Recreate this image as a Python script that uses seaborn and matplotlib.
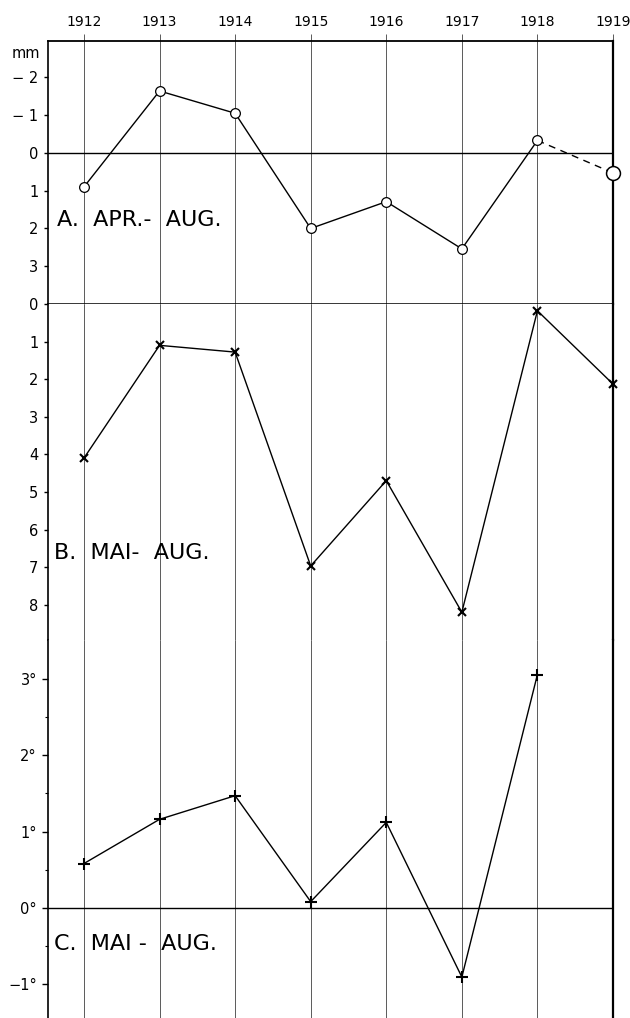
import matplotlib
matplotlib.use("Agg")
import matplotlib.pyplot as plt
import seaborn as sns
import numpy as np

sns.set_style("white")
plt.rcParams['font.family'] = ['DejaVu Sans']
plt.rcParams['text.color'] = 'black'
plt.rcParams['xtick.color'] = 'black'
plt.rcParams['ytick.color'] = 'black'

years = [1912, 1913, 1914, 1915, 1916, 1917, 1918, 1919]
a_vals = [0.9, -1.64, -1.05, 2.0, 1.29, 2.54, -0.33, 0.53]   # mm, Apr-Aug
b_vals = [4.1, 1.1, 1.28, 6.97, 4.7, 8.2, 0.18, 2.13]          # mm, Mai-Aug
c_years = [1912, 1913, 1914, 1915, 1916, 1917, 1918]
c_vals = [0.58, 1.16, 1.47, 0.08, 1.12, -0.91, 3.06]           # deg, Mai-Aug

a_ticks = [-2, -1, 0, 1, 2, 3]
a_labels = ["\u2212 2", "\u2212 1", "0", "1", "2", "3"]
b_ticks = [0, 1, 2, 3, 4, 5, 6, 7, 8]
c_ticks = [-1, 0, 1, 2, 3]
c_labels = ["\u22121\u00b0", "0\u00b0", "1\u00b0", "2\u00b0", "3\u00b0"]

W, H = 630, 1018
fig = plt.figure(figsize=(W / 100, H / 100), dpi=100)

def frac(top_px, bot_px):
    return [48 / W, 1 - bot_px / H, (613 - 48) / W, (bot_px - top_px) / H]

axA = fig.add_axes(frac(41, 304))
axB = fig.add_axes(frac(304, 640))
axC = fig.add_axes(frac(640, 1018))

xlim = (1911.524, 1919.0)
grid_kw = dict(color="#5a5a5a", lw=0.7, zorder=0)
lw = 1.0
for ax in (axA, axB, axC):
    ax.set_xlim(*xlim)
    ax.set_xticks(years)
    for y in years[:-1]:
        ax.axvline(y, **grid_kw)
    ax.spines["left"].set_visible(True)
    ax.spines["left"].set_color("black")
    ax.spines["left"].set_linewidth(1.2)
    ax.spines["right"].set_visible(True)
    ax.spines["right"].set_color("black")
    ax.spines["right"].set_linewidth(1.6)
    ax.tick_params(axis="y", which="major", direction="out", length=3, width=1,
                   labelsize=10.5, pad=4, left=True, right=False, color="black",
                   labelcolor="black")
    ax.set_xlabel("")
    ax.set_ylabel("")

# Panel A
axA.set_ylim(4.0, -2.963)
axA.set_yticks(a_ticks)
axA.set_yticklabels(a_labels)
axA.axhline(0, color="black", lw=1.0, zorder=1)
axA.spines["top"].set_visible(True)
axA.spines["top"].set_color("black")
axA.spines["top"].set_linewidth(1.3)
axA.spines["bottom"].set_visible(True)
axA.spines["bottom"].set_color("black")
axA.spines["bottom"].set_linewidth(1.1)
axA.xaxis.tick_top()
axA.tick_params(axis="x", which="major", top=True, bottom=False, length=5, width=0.7,
                color="#5a5a5a", labelsize=10, pad=4, labeltop=True, labelbottom=False,
                labelcolor="black")
axA.set_xticklabels([str(y) for y in years])
sns.lineplot(x=years[:-1], y=a_vals[:-1], ax=axA, color="black", lw=lw, marker="o",
             markersize=7, markerfacecolor="white", markeredgecolor="black",
             markeredgewidth=0.9, zorder=3)
sns.lineplot(x=years[-2:], y=a_vals[-2:], ax=axA, color="black", lw=lw,
             linestyle=(0, (5, 4)), zorder=2)
axA.plot([years[-1]], [a_vals[-1]], marker="o", markersize=10, markerfacecolor="white",
         markeredgecolor="black", markeredgewidth=1.1, clip_on=False, zorder=4)
axA.text(-0.064, 0.952, "mm", transform=axA.transAxes, fontsize=10.5, ha="left", va="center")
axA.text(0.016, 0.318, "A.  APR.-  AUG.", transform=axA.transAxes, fontsize=16,
         ha="left", va="center")

# Panel B
axB.set_ylim(8.94, 0)
axB.set_yticks(b_ticks)
axB.spines["top"].set_visible(False)
axB.spines["bottom"].set_visible(False)
axB.tick_params(axis="x", which="both", top=False, bottom=False, labeltop=False, labelbottom=False)
sns.lineplot(x=years, y=b_vals, ax=axB, color="black", lw=lw, marker="x",
             markersize=6, markeredgecolor="black", markeredgewidth=1.5, zorder=3,
             clip_on=False)
axB.text(0.011, 0.258, "B.  MAI-  AUG.", transform=axB.transAxes, fontsize=16,
         ha="left", va="center")

# Panel C
axC.set_ylim(-1.447, 3.513)
axC.set_yticks(c_ticks)
axC.set_yticklabels(c_labels)
axC.set_yticks([-0.5, 0.5, 1.5, 2.5], minor=True)
axC.tick_params(axis="y", which="minor", direction="out", length=2.5, width=0.8, left=True)
axC.tick_params(axis="y", which="major", length=4)
axC.axhline(0, color="black", lw=1.0, zorder=1)
axC.spines["top"].set_visible(False)
axC.spines["bottom"].set_visible(False)
axC.tick_params(axis="x", which="both", top=False, bottom=False, labeltop=False, labelbottom=False)
sns.lineplot(x=c_years, y=c_vals, ax=axC, color="black", lw=lw, marker="+",
             markersize=9, markeredgecolor="black", markeredgewidth=1.5, zorder=3)
axC.text(0.011, 0.195, "C.  MAI -  AUG.", transform=axC.transAxes, fontsize=16,
         ha="left", va="center")

fig.savefig("out.png", dpi=100)
